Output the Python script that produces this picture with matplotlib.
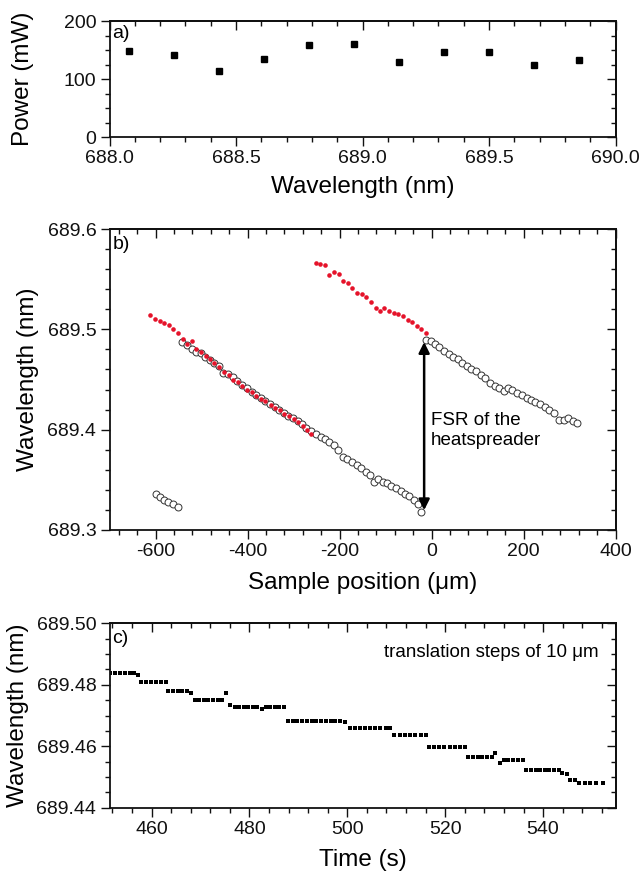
import matplotlib
matplotlib.use('Agg')
import matplotlib.pyplot as plt
from matplotlib.ticker import MultipleLocator, FormatStrFormatter

plt.rcParams['font.family'] = ['Liberation Sans', 'DejaVu Sans']
plt.rcParams['axes.unicode_minus'] = False

# ---------------- data ----------------
# panel a
power_wl = [688.078, 688.256, 688.434, 688.611, 688.790, 688.968, 689.145, 689.323, 689.500, 689.679, 689.857]
power_mw = [148.9, 142.0, 114.4, 133.9, 158.0, 159.8, 129.3, 146.6, 146.6, 123.6, 132.8]

# panel b
red1_x = [-611, -601, -591, -581, -571, -561, -551, -541, -531, -521, -511, -501, -491, -482, -472, -462,
          -451, -441, -431, -421, -411, -401, -391, -381, -371, -361, -350, -340, -330, -320, -310, -300,
          -290, -280, -271, -263]
red1_y = [689.514, 689.510, 689.508, 689.506, 689.504, 689.500, 689.496, 689.490, 689.485, 689.488,
          689.480, 689.477, 689.473, 689.470, 689.466, 689.462, 689.457, 689.454, 689.450, 689.448,
          689.444, 689.440, 689.438, 689.434, 689.431, 689.429, 689.425, 689.422, 689.420, 689.416,
          689.414, 689.411, 689.408, 689.404, 689.400, 689.396]
red2_x = [-252, -242, -232, -222, -212, -202, -192, -182, -172, -162, -152, -142, -131, -121, -113,
          -103, -93, -82, -72, -62, -52, -42, -32, -23, -13]
red2_y = [689.566, 689.565, 689.564, 689.554, 689.557, 689.555, 689.548, 689.546, 689.541, 689.536,
          689.535, 689.532, 689.527, 689.521, 689.518, 689.521, 689.518, 689.516, 689.515, 689.513,
          689.509, 689.507, 689.503, 689.500, 689.496]
circ0_x = [-600, -591, -582, -572, -562, -551]
circ0_y = [689.336, 689.333, 689.330, 689.328, 689.326, 689.323]
circ1_x = [-542, -532, -521, -512, -502, -492, -482, -472, -462, -453, -442, -432, -422, -411, -401,
           -391, -381, -371, -361, -351, -341, -331, -321, -311, -301, -291, -281, -272, -263, -251,
           -241, -231, -222, -213, -204, -193, -183, -172, -162, -154, -143, -134, -125, -116, -105,
           -96, -87, -77, -67, -58, -48, -38, -29, -22]
circ1_y = [689.487, 689.484, 689.480, 689.477, 689.476, 689.472, 689.469, 689.466, 689.463, 689.456,
           689.455, 689.452, 689.449, 689.445, 689.442, 689.438, 689.435, 689.432, 689.429, 689.426,
           689.423, 689.420, 689.417, 689.414, 689.412, 689.409, 689.406, 689.402, 689.399, 689.396,
           689.393, 689.391, 689.388, 689.385, 689.380, 689.373, 689.371, 689.368, 689.365, 689.362,
           689.358, 689.355, 689.348, 689.351, 689.348, 689.347, 689.344, 689.342, 689.339, 689.336,
           689.334, 689.330, 689.326, 689.318]
circ2_x = [-12, -2, 8, 17, 27, 37, 47, 57, 67, 77, 86, 96, 107, 116, 127, 137, 147, 157, 167, 176,
           186, 197, 207, 216, 226, 236, 246, 256, 266, 277, 287, 297, 307, 317]
circ2_y = [689.489, 689.488, 689.485, 689.482, 689.478, 689.475, 689.472, 689.470, 689.466, 689.463,
           689.460, 689.458, 689.454, 689.451, 689.447, 689.444, 689.442, 689.439, 689.442, 689.440,
           689.437, 689.435, 689.432, 689.430, 689.428, 689.426, 689.423, 689.420, 689.417, 689.410,
           689.410, 689.412, 689.409, 689.407]
fsr_x = -16
fsr_top = 689.4873
fsr_bottom = 689.3197

# panel c
time_s = [451.6, 452.6, 453.6, 454.6, 455.5, 456.5, 457.2,
          457.9, 458.9, 459.9, 460.9, 461.9, 462.9,
          463.3, 464.3, 465.3, 466.3, 467.3, 468.0,
          468.8, 469.7, 470.7, 471.6, 472.5, 473.5, 474.4, 475.2, 476.0,
          477.0, 477.9, 478.8, 479.8, 480.7, 481.6, 482.5,
          483.3, 484.2, 485.2, 486.1, 487.1,
          487.8, 488.8, 489.8, 490.7, 491.7, 492.7, 493.6, 494.6, 495.6, 496.6, 497.5, 498.5, 499.5,
          500.5, 501.5, 502.6, 503.6, 504.6, 505.7, 506.7, 507.8, 508.8,
          509.6, 510.7, 511.8, 512.8, 513.9, 515.0, 516.0,
          516.6, 517.7, 518.8, 519.8, 520.9, 522.0, 523.0, 524.1,
          524.7, 525.7, 526.6, 527.6, 528.5, 529.5, 530.2, 531.2,
          532.0, 532.9, 533.9, 534.8, 535.8,
          536.6, 537.5, 538.5, 539.4, 540.4, 541.3, 542.3, 543.2, 543.9, 544.8,
          545.6, 546.5, 547.4, 548.6, 549.6, 550.9, 552.2]
wl_time = [689.4839, 689.4839, 689.4839, 689.4839, 689.4839, 689.4839, 689.4832,
           689.4808, 689.4808, 689.4808, 689.4808, 689.4808, 689.4808,
           689.4780, 689.4780, 689.4780, 689.4780, 689.4780, 689.4774,
           689.4749, 689.4749, 689.4749, 689.4749, 689.4749, 689.4749, 689.4749, 689.4774, 689.4734,
           689.4728, 689.4728, 689.4728, 689.4728, 689.4728, 689.4728, 689.4720,
           689.4728, 689.4728, 689.4728, 689.4728, 689.4728,
           689.4683, 689.4683, 689.4683, 689.4683, 689.4683, 689.4683, 689.4683, 689.4683, 689.4683,
           689.4683, 689.4683, 689.4683, 689.4679,
           689.4660, 689.4660, 689.4660, 689.4660, 689.4660, 689.4660, 689.4660, 689.4660, 689.4660,
           689.4637, 689.4637, 689.4637, 689.4637, 689.4637, 689.4637, 689.4637,
           689.4598, 689.4598, 689.4598, 689.4598, 689.4598, 689.4598, 689.4598, 689.4598,
           689.4565, 689.4565, 689.4565, 689.4565, 689.4565, 689.4565, 689.4577, 689.4546,
           689.4556, 689.4556, 689.4556, 689.4556, 689.4556,
           689.4523, 689.4523, 689.4523, 689.4523, 689.4523, 689.4523, 689.4523, 689.4523, 689.4514, 689.4510,
           689.4490, 689.4490, 689.4479, 689.4479, 689.4481, 689.4481, 689.4481]

# ---------------- figure ----------------
W, H = 642, 873
fig = plt.figure(figsize=(W / 100, H / 100), dpi=100)
fig.patch.set_facecolor('white')


def add_axes(l, t, r, b):
    return fig.add_axes([l / W, 1 - b / H, (r - l) / W, (b - t) / H])


TICK_FS = 14
LABEL_FS = 17.5


def style(ax, xmaj, xmin, ymaj, ymin, xfmt, yfmt):
    ax.xaxis.set_major_locator(MultipleLocator(xmaj))
    ax.xaxis.set_minor_locator(MultipleLocator(xmin))
    ax.yaxis.set_major_locator(MultipleLocator(ymaj))
    ax.yaxis.set_minor_locator(MultipleLocator(ymin))
    ax.xaxis.set_major_formatter(FormatStrFormatter(xfmt))
    ax.yaxis.set_major_formatter(FormatStrFormatter(yfmt))
    ax.tick_params(which='both', direction='out', width=1.0, top=False, right=False,
                   labelsize=TICK_FS, pad=3, colors='#111111')
    ax.tick_params(which='major', length=6.5)
    ax.tick_params(which='minor', length=3.8)
    for s in ax.spines.values():
        s.set_linewidth(1.3)
        s.set_color('#111111')
    secx = ax.secondary_xaxis('top')
    secx.xaxis.set_major_locator(MultipleLocator(xmaj))
    secx.xaxis.set_minor_locator(MultipleLocator(xmin))
    secx.tick_params(which='both', direction='in', width=1.0, labeltop=False, colors='#111111')
    secx.tick_params(which='major', length=6.5)
    secx.tick_params(which='minor', length=3.8)
    secx.spines['top'].set_linewidth(1.3)
    secy = ax.secondary_yaxis('right')
    secy.yaxis.set_major_locator(MultipleLocator(ymaj))
    secy.yaxis.set_minor_locator(MultipleLocator(ymin))
    secy.tick_params(which='both', direction='in', width=1.0, labelright=False, colors='#111111')
    secy.tick_params(which='major', length=6.5)
    secy.tick_params(which='minor', length=3.8)
    secy.spines['right'].set_linewidth(1.3)


def labels(ax, xl, yl, xl_y, yl_x):
    ax.set_xlabel(xl, fontsize=LABEL_FS)
    ax.set_ylabel(yl, fontsize=LABEL_FS)
    ax.xaxis.label.set_verticalalignment('center')
    ax.yaxis.label.set_verticalalignment('center')
    ax.xaxis.set_label_coords(0.5, xl_y)
    ax.yaxis.set_label_coords(yl_x, 0.5)


# ----- panel a -----
ax_a = add_axes(109.5, 21, 615.5, 137)
ax_a.plot(power_wl, power_mw, linestyle='none', marker='s', markersize=4.2, color='black')
ax_a.set_xlim(688.0, 690.0)
ax_a.set_ylim(0, 200)
style(ax_a, 0.5, 0.1, 100, 25, '%.1f', '%d')
labels(ax_a, 'Wavelength (nm)', 'Power (mW)', -0.43, -0.17)
ax_a.text(0.006, 0.965, 'a)', transform=ax_a.transAxes, ha='left', va='top', fontsize=14)

# ----- panel b -----
ax_b = add_axes(109.5, 229, 615.5, 530)
circ_kw = dict(linestyle='none', marker='o', markersize=5.0, markerfacecolor='white',
               markeredgecolor='#333333', markeredgewidth=0.7)
red_kw = dict(linestyle='none', marker='o', markersize=3.3, color='#e5132a', markeredgewidth=0)
ax_b.plot(circ0_x, circ0_y, **circ_kw)
ax_b.plot(circ1_x, circ1_y, **circ_kw)
ax_b.plot(circ2_x, circ2_y, **circ_kw)
ax_b.plot(red1_x, red1_y, **red_kw)
ax_b.plot(red2_x, red2_y, **red_kw)
ax_b.annotate('', xy=(fsr_x, fsr_top), xytext=(fsr_x, fsr_bottom),
              arrowprops=dict(arrowstyle='<|-|>', lw=1.8, color='black', mutation_scale=16,
                              shrinkA=0, shrinkB=0))
ax_b.text(-1, 689.4173, 'FSR of the\nheatspreader', ha='left', va='top', fontsize=13.5)
ax_b.set_xlim(-700, 400)
ax_b.set_ylim(689.3, 689.6)
style(ax_b, 200, 40, 0.1, 0.02, '%d', '%.1f')
labels(ax_b, 'Sample position (\u03bcm)', 'Wavelength (nm)', -0.176, -0.162)
ax_b.text(0.006, 0.977, 'b)', transform=ax_b.transAxes, ha='left', va='top', fontsize=14)

# ----- panel c -----
ax_c = add_axes(109.5, 623.3, 615.5, 807.7)
ax_c.plot(time_s, wl_time, linestyle='none', marker='s', markersize=2.5, color='black',
          markeredgewidth=0)
ax_c.set_xlim(451.4, 554.8)
ax_c.set_ylim(689.44, 689.50)
style(ax_c, 20, 4, 0.02, 0.005, '%d', '%.2f')
labels(ax_c, 'Time (s)', 'Wavelength (nm)', -0.284, -0.180)
ax_c.text(0.006, 0.964, 'c)', transform=ax_c.transAxes, ha='left', va='top', fontsize=14)
ax_c.text(551.4, 689.4891, 'translation steps of 10 \u03bcm', ha='right', va='baseline', fontsize=13.5)

fig.savefig('out.png', dpi=100, facecolor='white')
